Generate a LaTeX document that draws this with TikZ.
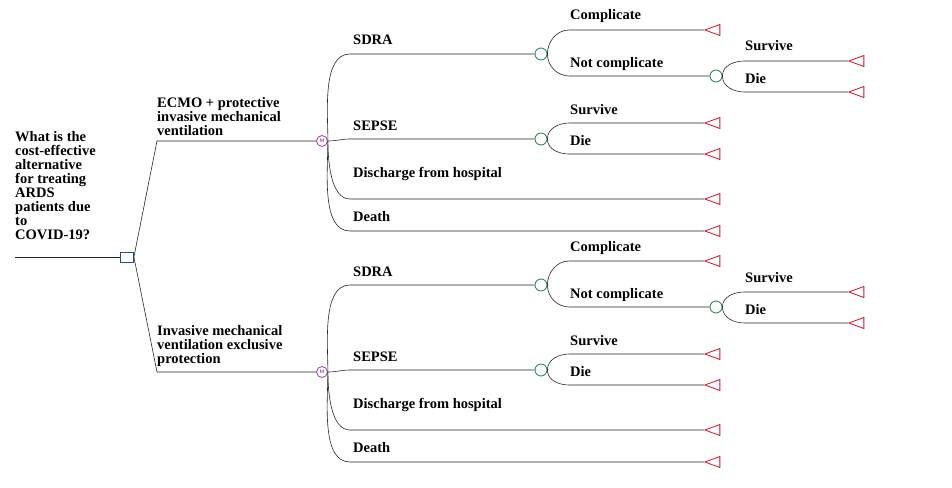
\documentclass[tikz,border=0pt]{standalone}
\usepackage{fontspec}
\setmainfont{Liberation Serif}
\usetikzlibrary{shapes.geometric}
\definecolor{decblue}{RGB}{40,70,160}
\definecolor{mpurple}{RGB}{160,60,170}
\definecolor{chgreen}{RGB}{20,130,70}
\definecolor{endred}{RGB}{210,20,40}
\tikzset{
  decision/.style={draw=decblue,thick,rectangle,minimum width=13pt,minimum height=10pt,inner sep=0pt},
  markov/.style={draw=mpurple,thick,circle,minimum size=11pt,inner sep=0pt,font=\fontsize{5}{5}\selectfont\sffamily\bfseries\color{mpurple}},
  chance/.style={draw=chgreen,thick,circle,minimum size=12pt,inner sep=0pt},
  terminal/.style={draw=endred,thick,isosceles triangle,shape border rotate=180,isosceles triangle stretches,minimum width=11pt,minimum height=15pt,inner sep=0pt},
  lbl/.style={anchor=base west,inner sep=0pt,font=\fontsize{14.5}{14}\selectfont\bfseries},
  br/.style={draw,gray!30!black,line width=0.6pt},
}
\begin{document}
\begin{tikzpicture}[x=1pt,y=-1pt]
    \useasboundingbox (0,0) rectangle (952,487);
    % root and decision
    \coordinate (root) at (15,257);
    \node[decision] (dec) at (127,257) {};
    \draw[br] (root) -- (dec.west);
    \node[lbl,align=left,anchor=south west] (q) at (15,240)
      {What is the\\cost-effective\\alternative\\for treating\\ARDS\\patients due\\to\\COVID-19?};
    \foreach \t/\dy in {a/0,b/231}{
      \begin{scope}[shift={(0,\dy)}]
        \node[markov] (\t m) at (322,141) {M};
        \node[chance] (\t sdra) at (541,54) {};
        \node[chance] (\t sepse) at (541,139) {};
        \node[terminal] (\t dis) at (716,199) {};
        \node[terminal] (\t dth) at (716,231) {};
        \node[terminal] (\t comp) at (716,30) {};
        \node[chance] (\t ncomp) at (716,76) {};
        \node[terminal] (\t nsurv) at (860,61) {};
        \node[terminal] (\t ndie) at (860,92) {};
        \node[terminal] (\t ssurv) at (716,123) {};
        \node[terminal] (\t sdie) at (716,154) {};
        % Markov branches
        \draw[br] (\t m.east) to[out=90,in=180,looseness=0.8] ([xshift=22]\t m.east |- \t sdra.west) -- (\t sdra.west);
        \draw[br] (\t m.east) to[out=0,in=180] ([xshift=22]\t m.east |- \t sepse.west) -- (\t sepse.west);
        \draw[br] (\t m.east) to[out=-90,in=180,looseness=0.8] ([xshift=22]\t m.east |- \t dis.west) -- (\t dis.west);
        \draw[br] (\t m.east) to[out=-90,in=180,looseness=0.8] ([xshift=22]\t m.east |- \t dth.west) -- (\t dth.west);
        \node[lbl] at (353,45) {SDRA};
        \node[lbl] at (353,130) {SEPSE};
        \node[lbl] at (353,177) {Discharge from hospital};
        \node[lbl] at (353,221) {Death};
        % SDRA
        \draw[br] (\t sdra.east) to[out=90,in=180] ([xshift=22]\t sdra.east |- \t comp.west) -- (\t comp.west);
        \draw[br] (\t sdra.east) to[out=-90,in=180] ([xshift=22]\t sdra.east |- \t ncomp.west) -- (\t ncomp.west);
        \node[lbl] at (570,20) {Complicate};
        \node[lbl] at (570,67) {Not complicate};
        \draw[br] (\t ncomp.east) to[out=90,in=180] ([xshift=22]\t ncomp.east |- \t nsurv.west) -- (\t nsurv.west);
        \draw[br] (\t ncomp.east) to[out=-90,in=180] ([xshift=22]\t ncomp.east |- \t ndie.west) -- (\t ndie.west);
        \node[lbl] at (745,51) {Survive};
        \node[lbl] at (745,83) {Die};
        % SEPSE
        \draw[br] (\t sepse.east) to[out=90,in=180] ([xshift=22]\t sepse.east |- \t ssurv.west) -- (\t ssurv.west);
        \draw[br] (\t sepse.east) to[out=-90,in=180] ([xshift=22]\t sepse.east |- \t sdie.west) -- (\t sdie.west);
        \node[lbl] at (570,114) {Survive};
        \node[lbl] at (570,145) {Die};
      \end{scope}
    }
    % strategies
    \draw[br] (dec.east) -- (157,141) -- (am.west);
    \draw[br] (dec.east) -- (157,372) -- (bm.west);
    \node[lbl,align=left,anchor=south west] at (157,136)
      {ECMO + protective\\invasive mechanical\\ventilation};
    \node[lbl,align=left,anchor=south west] at (157,367)
      {Invasive mechanical\\ventilation exclusive\\protection};
\end{tikzpicture}
\end{document}
